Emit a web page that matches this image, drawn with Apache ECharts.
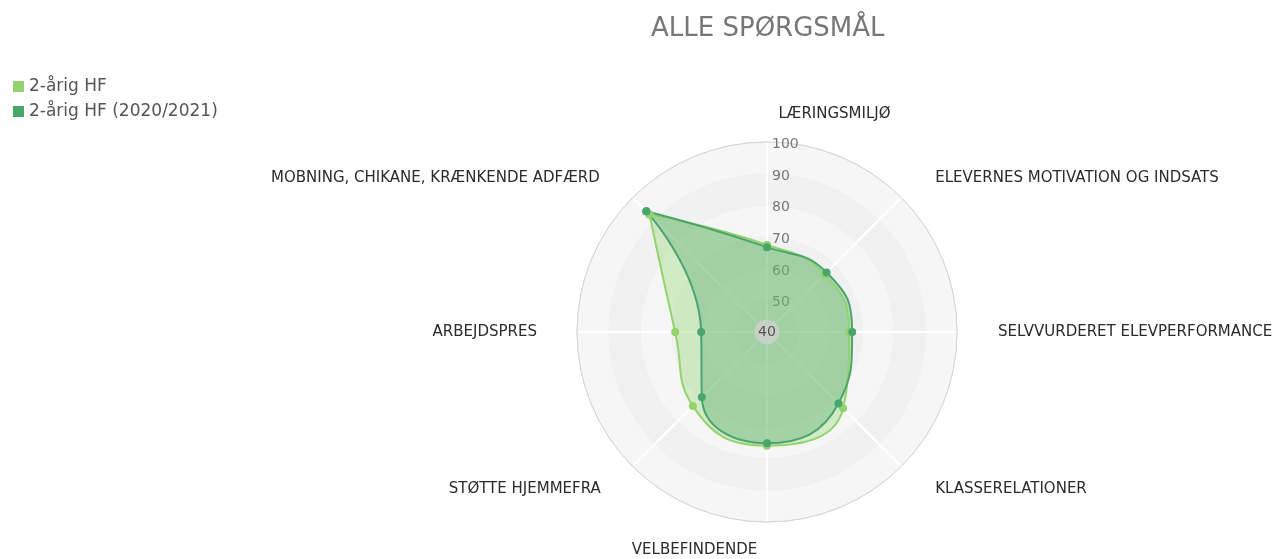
<!DOCTYPE html>
<html>
<head>
<meta charset="utf-8">
<script src="https://cdn.jsdelivr.net/npm/echarts@6/dist/echarts.min.js"></script>
<style>
  html, body { margin: 0; padding: 0; background: #fff; }
  #chart { width: 1272px; height: 559px; }
</style>
</head>
<body>
<div id="chart"></div>
<script>
var categories = [
  'LÆRINGSMILJØ',
  'ELEVERNES MOTIVATION OG INDSATS',
  'SELVVURDERET ELEVPERFORMANCE',
  'KLASSERELATIONER',
  'VELBEFINDENDE',
  'STØTTE HJEMMEFRA',
  'ARBEJDSPRES',
  'MOBNING, CHIKANE, KRÆNKENDE ADFÆRD'
];
var seriesNames = ['2-årig HF', '2-årig HF (2020/2021)'];
var hfValues = [67.5, 65.7, 65.9, 74.0, 75.9, 73.1, 69.0, 92.5];
var hf2021Values = [66.8, 66.6, 66.9, 71.9, 75.1, 69.1, 60.8, 93.9];
var radiusMin = 40, radiusMax = 100, radiusStep = 10;

var step = 360 / categories.length;

// closed loop: start and end on the last spoke so the seam sits on a corner
function loop(values) {
  var last = values.length - 1;
  var pts = [[values[last], last * step]];
  values.forEach(function (v, i) {
    pts.push([v, i * step]);
  });
  return pts;
}

// per-label nudges so the names sit where the original put them
var rich = {
  l0: { padding: [0, 0, 6, 135] },
  l1: { padding: [0, 0, 2, 24] },
  l2: { padding: [0, 0, 0, 27] },
  l3: { padding: [5, 0, 0, 24] },
  l4: { padding: [7, 145, 0, 0] },
  l5: { padding: [5, 22, 0, 0] },
  l6: { padding: [0, 26, 0, 0] },
  l7: { padding: [0, 23, 2, 0] }
};

var chart = echarts.init(document.getElementById('chart'));

var option = {
  animation: false,
  textStyle: { fontFamily: 'DejaVu Sans' },
  title: {
    text: 'ALLE SPØRGSMÅL',
    left: 651,
    top: 16,
    padding: 0,
    textStyle: { color: '#777', fontSize: 26, fontWeight: 'normal' }
  },
  legend: {
    data: seriesNames,
    orient: 'vertical',
    left: 13,
    top: 78,
    padding: 0,
    itemGap: 8,
    icon: 'rect',
    itemWidth: 11,
    itemHeight: 11,
    textStyle: { color: '#555', fontSize: 17 }
  },
  polar: {
    center: [767, 332],
    radius: 190
  },
  angleAxis: {
    type: 'value',
    min: 0,
    max: 360,
    interval: step,
    startAngle: 90,
    clockwise: true,
    axisLine: { lineStyle: { color: '#d4d4d4', width: 1 } },
    axisTick: { show: false },
    splitLine: { lineStyle: { color: '#ffffff', width: 2 } },
    axisLabel: {
      margin: 14,
      color: '#2b2b2b',
      fontSize: 15,
      rich: rich,
      formatter: function (value) {
        if (value >= 360) return '';
        var idx = Math.round(value / step) % categories.length;
        return '{l' + idx + '|' + categories[idx] + '}';
      }
    }
  },
  radiusAxis: {
    min: radiusMin,
    max: radiusMax,
    interval: radiusStep,
    axisLine: { show: false },
    axisTick: { show: false },
    axisLabel: {
      showMinLabel: false,
      color: '#777',
      fontSize: 14,
      align: 'left',
      margin: -5,
      rich: { r: { padding: [5, 0, 0, 0] } },
      formatter: function (value) {
        return '{r|' + value + '}';
      }
    },
    splitLine: { lineStyle: { color: '#d6d6d6', width: 1 } },
    splitArea: { show: true, areaStyle: { color: ['#f1f1f1', '#f6f6f6'] } }
  },
  series: [
    {
      name: seriesNames[0],
      type: 'line',
      coordinateSystem: 'polar',
      smooth: 0.5,
      symbol: 'circle',
      symbolSize: 8,
      color: '#93d36e',
      lineStyle: { width: 2, color: '#93d36e' },
      itemStyle: { color: '#93d36e' },
      areaStyle: { color: 'rgba(147,211,110,0.35)', opacity: 1 },
      data: loop(hfValues)
    },
    {
      name: seriesNames[1],
      type: 'line',
      coordinateSystem: 'polar',
      smooth: 0.5,
      symbol: 'circle',
      symbolSize: 8,
      color: '#4aa56d',
      lineStyle: { width: 2, color: '#4aa56d' },
      itemStyle: { color: '#4aa56d' },
      areaStyle: { color: 'rgba(74,165,109,0.35)', opacity: 1 },
      data: loop(hf2021Values)
    },
    {
      name: 'center',
      type: 'scatter',
      coordinateSystem: 'polar',
      silent: true,
      z: 5,
      symbolSize: 25,
      itemStyle: { color: '#cfcfcf' },
      label: {
        show: true,
        position: 'inside',
        formatter: String(radiusMin),
        color: '#333',
        fontSize: 14
      },
      data: [[radiusMin, 0]]
    }
  ]
};

chart.setOption(option);
</script>
</body>
</html>
